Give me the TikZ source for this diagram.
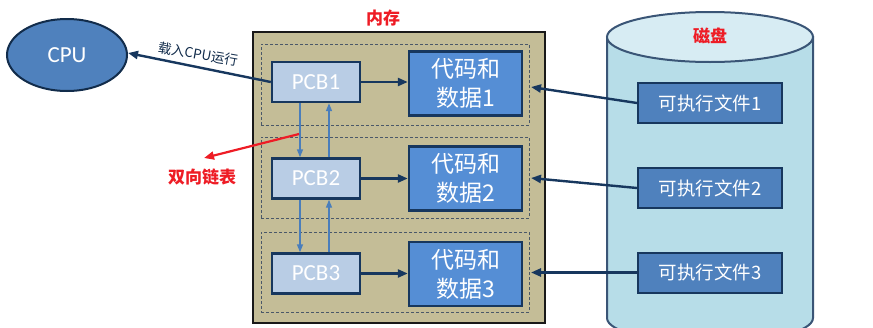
\documentclass[tikz,border=0pt]{standalone}
\usepackage{fontspec}
\setmainfont{Carlito}
\newfontfamily\cjk{Noto Sans CJK SC}
\usetikzlibrary{arrows.meta,shapes.geometric}
\definecolor{navy}{HTML}{17375E}
\definecolor{memfill}{HTML}{C4BD97}
\definecolor{pcbfill}{HTML}{B9CDE5}
\definecolor{codefill}{HTML}{558ED5}
\definecolor{filefill}{HTML}{4F81BD}
\definecolor{linkblue}{HTML}{4A7EBB}
\definecolor{diskbody}{HTML}{B7DDE8}
\definecolor{disktop}{HTML}{D7ECF3}
\definecolor{redtxt}{HTML}{EE1C25}
\definecolor{dashgray}{HTML}{4A5868}
\tikzset{
  pcbbox/.style={draw=navy, line width=2.4pt, fill=pcbfill, text=white,
    minimum width=88pt, minimum height=40pt, inner sep=0pt,
    font=\fontsize{23}{28}\selectfont},
  codebox/.style={draw=navy, line width=2.4pt, fill=codefill, text=white,
    minimum width=113pt, minimum height=64pt, inner sep=0pt, align=center,
    font=\cjk\fontsize{23}{29}\selectfont},
  filebox/.style={draw=navy, line width=2pt, fill=filefill, text=white,
    minimum width=144pt, minimum height=40pt, inner sep=0pt,
    font=\cjk\fontsize{18.5}{22}\selectfont},
  grpbox/.style={draw=dashgray, line width=0.9pt, dash pattern=on 3pt off 2pt},
  navyarrow/.style={draw=navy, line width=2.4pt, -{Triangle[length=10pt,width=8pt]}},
  linkarrow/.style={draw=linkblue, line width=1.4pt, -{Triangle[length=8pt,width=6pt]}},
  redlabel/.style={text=redtxt, font=\cjk\bfseries\fontsize{17}{20}\selectfont}
}
\begin{document}
\begin{tikzpicture}[x=1pt,y=-1pt]
\useasboundingbox (0,0) rectangle (873,327);
\clip (0,0) rectangle (873,327);
% memory
\node[draw=black!90, line width=2pt, fill=memfill, minimum width=292pt, minimum height=291pt, inner sep=0pt] (mem) at (399,177.5) {};
\node[redlabel] (memlbl) at (383,18) {内存};
\node[grpbox, minimum width=268pt, minimum height=81pt, inner sep=0pt] (g1) at (395,84.5) {};
\node[grpbox, minimum width=268pt, minimum height=81pt, inner sep=0pt] (g2) at (395,177.5) {};
\node[grpbox, minimum width=268pt, minimum height=80pt, inner sep=0pt] (g3) at (395,272) {};
\node[pcbbox] (pcb1) at (316,82) {PCB1};
\node[pcbbox] (pcb2) at (316,178.5) {PCB2};
\node[pcbbox] (pcb3) at (316,273.5) {PCB3};
\node[codebox] (code1) at (465.5,83.5) {代码和\\数据1};
\node[codebox] (code2) at (465.5,178.5) {代码和\\数据2};
\node[codebox] (code3) at (465.5,274) {代码和\\数据3};
\draw[navyarrow] (pcb1.east) -- (code1.west |- pcb1.east);
\draw[navyarrow] (pcb2.east) -- (code2.west |- pcb2.east);
\draw[navyarrow] (pcb3.east) -- (code3.west |- pcb3.east);
\draw[linkarrow] ([xshift=-16pt]pcb1.south) -- ([xshift=-16pt]pcb2.north);
\draw[linkarrow] ([xshift=13pt]pcb2.north) -- ([xshift=13pt]pcb1.south);
\draw[linkarrow] ([xshift=-16pt]pcb2.south) -- ([xshift=-16pt]pcb3.north);
\draw[linkarrow] ([xshift=13pt]pcb3.north) -- ([xshift=13pt]pcb2.south);
% disk
\path[draw=navy!85, line width=2pt, fill=diskbody]
  (607,37) -- (607,318) arc[start angle=180, end angle=360, x radius=103pt, y radius=25pt] -- (813,37) -- cycle;
\node[draw=navy!85, line width=2pt, fill=disktop, ellipse, minimum width=206pt, minimum height=50pt, inner sep=0pt] (disk) at (710,37) {};
\node[redlabel] (disklbl) at (710,36) {磁盘};
\node[filebox] (f1) at (710,103) {可执行文件1};
\node[filebox] (f2) at (710,188) {可执行文件2};
\node[filebox] (f3) at (710,272.5) {可执行文件3};
\coordinate (t1) at (531,87);
\coordinate (t2) at (531,178);
\coordinate (t3) at (531,272.5);
\draw[navyarrow] (f1.west) -- (t1);
\draw[navyarrow] (f2.west) -- (t2);
\draw[navyarrow] (f3.west) -- (t3);
% CPU
\node[draw=navy!80!black, line width=2pt, fill=filefill, ellipse, minimum width=120pt, minimum height=72pt, inner sep=0pt, text=white, font=\fontsize{23}{28}\selectfont] (cpu) at (67,55) {CPU};
\draw[navyarrow] (pcb1.west) -- ([yshift=2pt]cpu.east);
\node[rotate=-10, inner sep=1pt, text=navy!80!black, font=\cjk\fontsize{13.5}{16}\selectfont] (cpulbl) at (198,54) {载入CPU运行};
% linked list
\coordinate (r1) at (299,134);
\coordinate (r2) at (204,158);
\draw[draw=redtxt, line width=2.2pt, -{Triangle[length=10pt,width=8pt]}] (r1) -- (r2);
\node[redlabel] (listlbl) at (202,177) {双向链表};
\end{tikzpicture}
\end{document}
